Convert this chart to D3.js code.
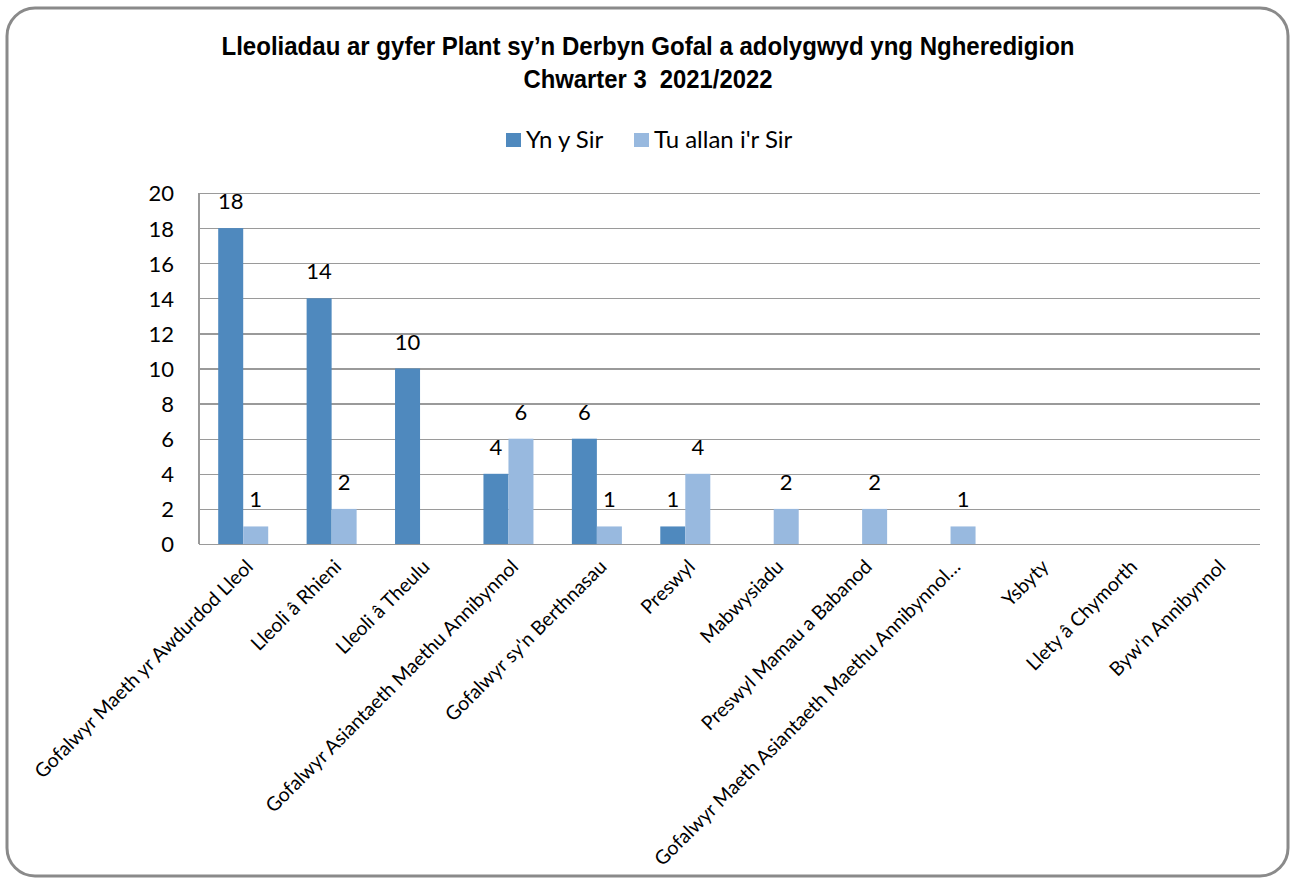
<!DOCTYPE html>
<html>
<head>
<meta charset="utf-8">
<script src="https://cdn.jsdelivr.net/npm/d3@7"></script>
<style>
  html, body { margin: 0; padding: 0; background: #fff; }
  svg { display: block; }
  text { white-space: pre; }
</style>
</head>
<body>
<svg id="chart" width="1295" height="879"></svg>
<script>
const titleLines = ["Lleoliadau ar gyfer Plant sy’n Derbyn Gofal a adolygwyd yng Ngheredigion", "Chwarter 3  2021/2022"];
const categories = [
  "Gofalwyr Maeth yr Awdurdod Lleol",
  "Lleoli â Rhieni",
  "Lleoli â Theulu",
  "Gofalwyr Asiantaeth Maethu Annibynnol",
  "Gofalwyr sy'n Berthnasau",
  "Preswyl",
  "Mabwysiadu",
  "Preswyl Mamau a Babanod",
  "Gofalwyr Maeth Asiantaeth Maethu Annibynnol…",
  "Ysbyty",
  "Llety â Chymorth",
  "Byw'n Annibynnol"
];
const seriesNames = ["Yn y Sir", "Tu allan i'r Sir"];
const ynYSir = [18, 14, 10, 4, 6, 1, null, null, null, null, null, null];
const tuAllan = [1, 2, null, 6, 1, 4, 2, 2, 1, null, null, null];
const yTicks = [0, 2, 4, 6, 8, 10, 12, 14, 16, 18, 20];

const colors = ["#4F89BE", "#98B9DF"];
const svg = d3.select("#chart");
const plot = { left: 199, right: 1260, top: 193, bottom: 544 };
const bodyFont = "Lato, 'Open Sans', sans-serif";

// frame
svg.append("rect")
  .attr("x", 7).attr("y", 8).attr("width", 1281).attr("height", 868)
  .attr("rx", 28).attr("ry", 28)
  .attr("fill", "#fff").attr("stroke", "#8a8a8a").attr("stroke-width", 3);

// title
const title = svg.append("g");
titleLines.forEach((t, i) => {
  const el = title.append("text")
    .attr("x", 648).attr("y", 55 + i * 33)
    .attr("text-anchor", "middle")
    .attr("font-family", "'Liberation Sans Narrow', 'Arial Narrow', 'Liberation Sans', Arial, sans-serif")
    .attr("font-weight", "bold")
    .attr("font-size", 25.5)
    .attr("fill", "#000")
    .text(t);
  const target = i === 0 ? 853 : 249;
  const len = el.node().getComputedTextLength();
  if (Math.abs(len - target) > 4) {
    el.attr("textLength", target).attr("lengthAdjust", "spacingAndGlyphs");
  }
});

// scales
const x0 = d3.scaleBand().domain(categories).range([plot.left, plot.right]).paddingInner(0).paddingOuter(0);
const x1 = d3.scaleBand().domain(seriesNames).range([0, x0.bandwidth()]).paddingInner(0).paddingOuter(0.768);
const y = d3.scaleLinear().domain([0, 20]).range([plot.bottom, plot.top]);

// gridlines
svg.append("g")
  .attr("transform", `translate(${plot.left},0)`)
  .call(d3.axisLeft(y).tickValues(yTicks).tickSize(-(plot.right - plot.left)).tickFormat(""))
  .call(g => g.select(".domain").remove())
  .call(g => g.selectAll(".tick line").attr("stroke", "#9a9a9a").attr("stroke-width", 1.3).attr("shape-rendering", "crispEdges"));

// y axis line
svg.append("line")
  .attr("x1", plot.left).attr("x2", plot.left)
  .attr("y1", plot.top).attr("y2", plot.bottom)
  .attr("stroke", "#9a9a9a").attr("stroke-width", 1.3).attr("shape-rendering", "crispEdges");

// y tick labels
svg.append("g")
  .attr("transform", `translate(${plot.left - 25},0)`)
  .call(d3.axisLeft(y).tickValues(yTicks).tickSize(0).tickPadding(0))
  .call(g => g.select(".domain").remove())
  .call(g => g.selectAll(".tick text")
    .attr("font-family", bodyFont).attr("font-size", 22).attr("fill", "#000").attr("dy", "0.36em"));

// bars
const data = categories.map((c, i) => ({ cat: c, vals: [ynYSir[i], tuAllan[i]] }));
const groups = svg.append("g").selectAll("g").data(data).join("g")
  .attr("transform", d => `translate(${x0(d.cat)},0)`);

groups.selectAll("rect")
  .data(d => d.vals.map((v, j) => ({ s: seriesNames[j], v, j })).filter(e => e.v !== null))
  .join("rect")
  .attr("x", e => x1(e.s))
  .attr("width", x1.bandwidth())
  .attr("y", e => y(e.v))
  .attr("height", e => y(0) - y(e.v))
  .attr("fill", e => colors[e.j]);

// data labels
groups.selectAll("text.lbl")
  .data(d => d.vals.map((v, j) => ({ s: seriesNames[j], v, j })).filter(e => e.v !== null))
  .join("text")
  .attr("class", "lbl")
  .attr("x", e => x1(e.s) + x1.bandwidth() / 2)
  .attr("y", e => y(e.v) - 19)
  .attr("text-anchor", "middle")
  .attr("font-family", bodyFont).attr("font-size", 22).attr("fill", "#000")
  .text(e => e.v);

// x axis labels
svg.append("g").selectAll("text").data(categories).join("text")
  .attr("transform", c => `translate(${x0(c) + x0.bandwidth() / 2 + 11},${plot.bottom + 24}) rotate(-45)`)
  .attr("text-anchor", "end")
  .attr("font-family", bodyFont).attr("font-size", 19.5).attr("fill", "#000")
  .text(c => c);

// legend
const legend = svg.append("g");
const legendItems = [{ name: seriesNames[0], x: 506 }, { name: seriesNames[1], x: 634 }];
legendItems.forEach((it, i) => {
  legend.append("rect").attr("x", it.x).attr("y", 133).attr("width", 15).attr("height", 14).attr("fill", colors[i]);
  legend.append("text").attr("x", it.x + 20).attr("y", 147.5)
    .attr("font-family", bodyFont).attr("font-size", 24).attr("fill", "#000").text(it.name);
});
</script>
</body>
</html>
